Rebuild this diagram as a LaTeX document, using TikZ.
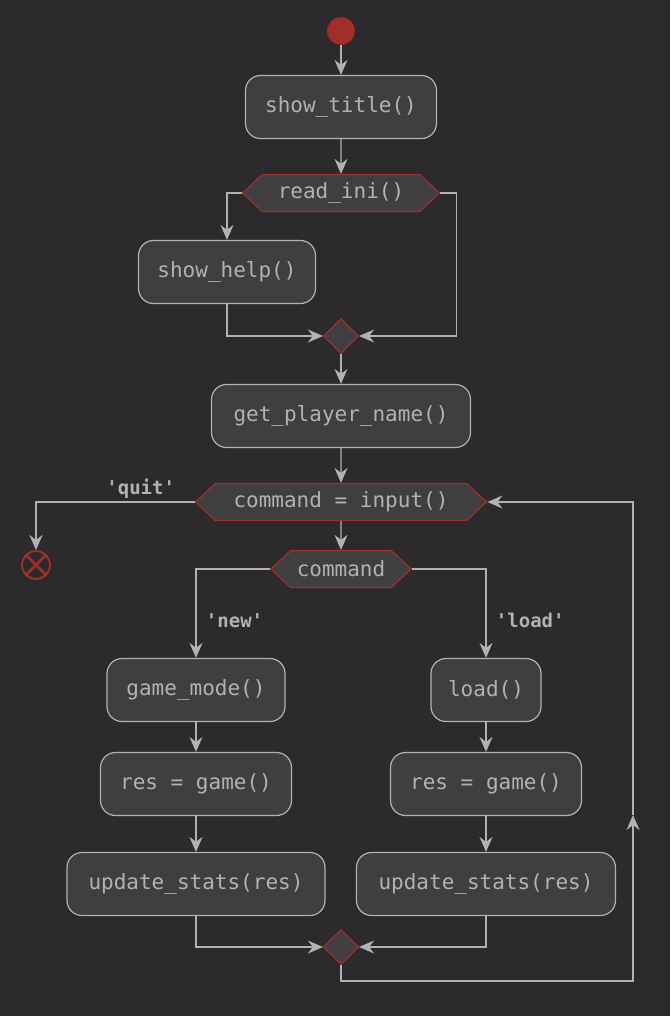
\documentclass[tikz,border=0pt]{standalone}
\usepackage{fontspec}
\setmainfont{DejaVu Sans Mono}
\usetikzlibrary{arrows.meta,shapes.geometric,shapes.symbols}
\definecolor{bgdark}{HTML}{2C2A2D}
\definecolor{boxfill}{HTML}{403E41}
\definecolor{lightline}{HTML}{B2B2B2}
\definecolor{umlred}{HTML}{9E2F2A}
\newcommand{\guardtext}[1]{\textquotesingle#1\textquotesingle}

\begin{document}
\begin{tikzpicture}[x=1pt,y=-1pt,
  act/.style={draw=lightline,fill=boxfill,rounded corners=15pt,line width=1.2pt,
    minimum height=63pt,text=lightline,font=\fontsize{21}{25}\selectfont},
  hexa/.style={draw=umlred,fill=boxfill,line width=1.2pt,signal,signal to=east and west,
    signal pointer angle=86,minimum height=37pt,inner xsep=6pt,text=lightline,
    font=\fontsize{21}{25}\selectfont},
  merge/.style={draw=umlred,fill=boxfill,line width=1.2pt,diamond,minimum size=35pt,inner sep=0pt},
  flow/.style={draw=lightline,line width=1.2pt,-{Stealth[length=15pt,width=13pt,inset=5pt]}},
  guard/.style={text=lightline,font=\fontsize{19}{23}\selectfont\bfseries}]
\fill[bgdark] (0,0) rectangle (670,1016);
\useasboundingbox (0,0) rectangle (670,1016);

\node[circle,fill=umlred,draw=umlred!70!black,minimum size=28pt,inner sep=0pt] (start) at (341,31) {};
\node[act,minimum width=191pt] (title) at (341,107) {show\_title()};
\node[hexa,minimum width=197pt] (ini) at (341,193) {read\_ini()};
\node[act,minimum width=177pt] (help) at (227,272) {show\_help()};
\node[merge] (m1) at (341,336) {};
\node[act,minimum width=259pt] (name) at (341,416) {get\_player\_name()};
\node[hexa,minimum width=291pt] (cmd) at (341,502) {command = input()};
\node[circle,draw=umlred,line width=2pt,minimum size=28pt,inner sep=0pt] (stop) at (36,565) {};
\draw[umlred,line width=2.5pt] (stop.north west) -- (stop.south east) (stop.north east) -- (stop.south west);
\node[hexa,minimum width=129pt] (sel) at (341,569) {command};
\node[act,minimum width=178pt] (mode) at (196,690) {game\_mode()};
\node[act,minimum width=191pt] (gameA) at (196,784) {res = game()};
\node[act,minimum width=258pt] (statsA) at (196,884) {update\_stats(res)};
\node[act,minimum width=110pt] (load) at (486,690) {load()};
\node[act,minimum width=191pt] (gameB) at (486,784) {res = game()};
\node[act,minimum width=259pt] (statsB) at (486,884) {update\_stats(res)};
\node[merge] (m2) at (341,947) {};
\coordinate (back) at (633,981);
\coordinate (up) at (633,815);

\draw[flow] (start) -- (title);
\draw[flow] (title) -- (ini);
\draw[flow] (ini.west) -| (help.north);
\draw[flow] (ini.east) -- ++(16,0) |- (m1.east);
\draw[flow] (help.south) |- (m1.west);
\draw[flow] (m1) -- (name);
\draw[flow] (name) -- (cmd);
\draw[flow] (cmd.west) -| node[guard,above,pos=0.17]{\guardtext{quit}} (stop.north);
\draw[flow] (cmd) -- (sel);
\draw[flow] (sel.west) -| node[guard,right,pos=0.79,xshift=6pt]{\guardtext{new}} (mode.north);
\draw[flow] (sel.east) -| node[guard,right,pos=0.79,xshift=6pt]{\guardtext{load}} (load.north);
\draw[flow] (mode) -- (gameA);
\draw[flow] (gameA) -- (statsA);
\draw[flow] (load) -- (gameB);
\draw[flow] (gameB) -- (statsB);
\draw[flow] (statsA.south) |- (m2.west);
\draw[flow] (statsB.south) |- (m2.east);
\draw[flow] (m2.south) |- (back) -- (up);
\draw[flow] (up) |- (cmd.east);
\end{tikzpicture}
\end{document}
